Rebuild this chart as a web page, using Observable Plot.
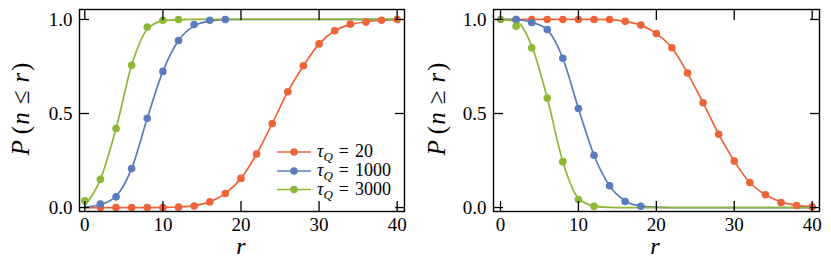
<!DOCTYPE html>
<html><head><meta charset="utf-8">
<script src="https://cdn.jsdelivr.net/npm/d3@7"></script>
<script src="https://cdn.jsdelivr.net/npm/@observablehq/plot@0.6"></script>
<style>
body{margin:0;background:#fff;}
#wrap{display:flex;width:831px;height:277px;overflow:hidden;}
#wrap svg{display:block;flex:none;}
#wrap svg text{font-family:"Liberation Serif","DejaVu Serif",serif !important;}
</style></head><body><div id="wrap"></div>
<script>
// ---- data ----
const series = ["τQ = 20", "τQ = 1000", "τQ = 3000"];
const tauValues = ["20", "1000", "3000"];
const colors = ["#EF6338", "#5A7CBD", "#8DB834"];
const xTicks = [0, 10, 20, 30, 40];
const yTicks = [0, 0.5, 1];
const yTickLabels = ["0.0", "0.5", "1.0"];

// fitted-curve samples (r = 0,2,...,40)
const lineR = [0,2,4,6,8,10,12,14,16,18,20,22,24,26,28,30,32,34,36,38,40];
const cdfLineRed   = [0,0,0,0,0,0.001,0.003,0.01,0.03,0.075,0.155,0.285,0.447,0.616,0.754,0.87,0.94,0.973,0.988,0.996,1.0];
const cdfLineBlue  = [0.002,0.016,0.06,0.208,0.475,0.724,0.888,0.966,0.992,0.999,1,1,1,1,1,1,1,1,1,1,1];
const cdfLineGreen = [0.01,0.15,0.42,0.756,0.948,0.993,0.999,1,1,1,1,1,1,1,1,1,1,1,1,1,1];
const ccdfLineRed   = [1,1,1,1,1,1,1,0.999,0.99,0.97,0.925,0.85,0.715,0.557,0.39,0.247,0.133,0.068,0.03,0.012,0.005];
const ccdfLineBlue  = [1,0.999,0.985,0.945,0.794,0.527,0.278,0.116,0.035,0.008,0.002,0,0,0,0,0,0,0,0,0,0];
const ccdfLineGreen = [1,0.99,0.86,0.582,0.244,0.05,0.008,0.001,0,0,0,0,0,0,0,0,0,0,0,0,0];

// measured points
const cdfRRed = [2,4,6,8,10,12,14,16,18,20,22,24,26,28,30,32,34,36,38,40];
const cdfRed  = [0,0,0,0,0,0.002,0.008,0.03,0.075,0.155,0.285,0.447,0.616,0.754,0.87,0.94,0.975,0.986,0.996,1.0];
const cdfRBlue = [2,4,6,8,10,12,14,16,18];
const cdfBlue  = [0.018,0.057,0.208,0.475,0.724,0.888,0.973,0.996,1.0];
const cdfRGreen = [0,2,4,6,8,10,12];
const cdfGreen  = [0.036,0.15,0.42,0.756,0.96,0.996,1.0];

const ccdfRRed = [2,4,6,8,10,12,14,16,18,20,22,24,26,28,30,32,34,36,38,40];
const ccdfRed  = [1,1,1,1,1,1,1,0.99,0.97,0.925,0.85,0.715,0.557,0.39,0.247,0.133,0.068,0.027,0.011,0.004];
const ccdfRBlue = [2,4,6,8,10,12,14,16,18];
const ccdfBlue  = [1.0,0.984,0.947,0.794,0.527,0.278,0.116,0.032,0.007];
const ccdfRGreen = [0,2,4,6,8,10,12];
const ccdfGreen  = [1.0,0.964,0.849,0.582,0.244,0.043,0.007];

const FONT = "'Liberation Serif', 'DejaVu Serif', serif";

function makePanel({lineVals, ptR, ptVals, xDomain, width, marginLeft, marginRight}) {
  const lineData = series.flatMap((s, i) => lineR.map((r, j) => ({r, p: lineVals[i][j], s})));
  const ptData = series.flatMap((s, i) => ptR[i].map((r, j) => ({r, p: ptVals[i][j], s})));
  const tick = {tickSize: -10, tickFormat: () => "", label: null, strokeWidth: 1.3};
  return Plot.plot({
    width, height: 277, marginLeft, marginRight, marginTop: 9, marginBottom: 66,
    style: {fontFamily: FONT, fontSize: "19px", color: "#000", background: "#fff", overflow: "visible"},
    x: {domain: xDomain, label: null},
    y: {domain: [-0.021, 1.053], label: null},
    color: {domain: series, range: colors},
    marks: [
      Plot.line(lineData, {x: "r", y: "p", stroke: "s", z: "s", curve: "monotone-x", strokeWidth: 1.7}),
      Plot.dot(ptData, {x: "r", y: "p", fill: "s", r: 3.8}),
      Plot.axisX({ticks: xTicks, anchor: "bottom", ...tick}),
      Plot.axisX({ticks: xTicks, anchor: "top", ...tick}),
      Plot.axisY({ticks: yTicks, anchor: "left", ...tick}),
      Plot.axisY({ticks: yTicks, anchor: "right", ...tick}),
      Plot.axisX({ticks: xTicks, anchor: "bottom", tickSize: 0, tickPadding: 6, label: null, tickFormat: d => String(d), fontSize: 19}),
      Plot.axisY({ticks: yTicks, anchor: "left", tickSize: 0, tickPadding: 7, label: null, tickFormat: d => yTickLabels[yTicks.indexOf(d)], fontSize: 19}),
      Plot.frame({stroke: "#000", strokeWidth: 1.4})
    ]
  });
}

function addLabels(svg, {xlabX, ylabX, rel}) {
  const s = d3.select(svg);
  s.append("text").attr("x", xlabX).attr("y", 254).attr("text-anchor", "middle")
    .attr("font-size", 24).attr("font-style", "italic").text("r");
  const t = s.append("text").attr("transform", `translate(${ylabX},109) rotate(-90)`)
    .attr("text-anchor", "middle").attr("font-size", 25);
  t.append("tspan").attr("font-style", "italic").text("P");
  t.append("tspan").attr("dx", 6).text("(");
  t.append("tspan").attr("dx", 1).attr("font-style", "italic").text("n");
  t.append("tspan").attr("dx", 8).text(rel);
  t.append("tspan").attr("dx", 8).attr("font-style", "italic").text("r");
  t.append("tspan").attr("dx", 2).text(")");
}

const left = makePanel({
  lineVals: [cdfLineRed, cdfLineBlue, cdfLineGreen],
  ptR: [cdfRRed, cdfRBlue, cdfRGreen],
  ptVals: [cdfRed, cdfBlue, cdfGreen],
  xDomain: [-0.68, 40.94], width: 416, marginLeft: 79, marginRight: 12
});
const right = makePanel({
  lineVals: [ccdfLineRed, ccdfLineBlue, ccdfLineGreen],
  ptR: [ccdfRRed, ccdfRBlue, ccdfRGreen],
  ptVals: [ccdfRed, ccdfBlue, ccdfGreen],
  xDomain: [-0.9, 40.94], width: 415, marginLeft: 77, marginRight: 12
});
addLabels(left, {xlabX: 241, ylabX: 29, rel: "≤"});
addLabels(right, {xlabX: 239, ylabX: 29, rel: "≥"});

// legend in left panel
const lg = d3.select(left).append("g");
const rowsY = [152, 171, 189.5];
series.forEach((s, i) => {
  const y = rowsY[i];
  lg.append("line").attr("x1", 277).attr("x2", 311).attr("y1", y).attr("y2", y)
    .attr("stroke", colors[i]).attr("stroke-width", 1.7);
  lg.append("circle").attr("cx", 294).attr("cy", y).attr("r", 3.8).attr("fill", colors[i]);
  const t = lg.append("text").attr("x", 317).attr("y", y + 5).attr("text-anchor", "start")
    .attr("font-size", 18);
  t.append("tspan").attr("font-style", "italic").text("τ");
  t.append("tspan").attr("font-style", "italic").attr("font-size", 13).attr("dy", 4).text("Q");
  t.append("tspan").attr("dy", -4).attr("dx", 6).text("=");
  t.append("tspan").attr("dx", 6).text(tauValues[i]);
});

// force serif family on every text element
[left, right].forEach(svg => svg.querySelectorAll("text, tspan").forEach(el =>
  el.style.setProperty("font-family", "'Liberation Serif', 'DejaVu Serif', serif", "important")));

document.getElementById("wrap").append(left, right);
</script>
</body></html>
